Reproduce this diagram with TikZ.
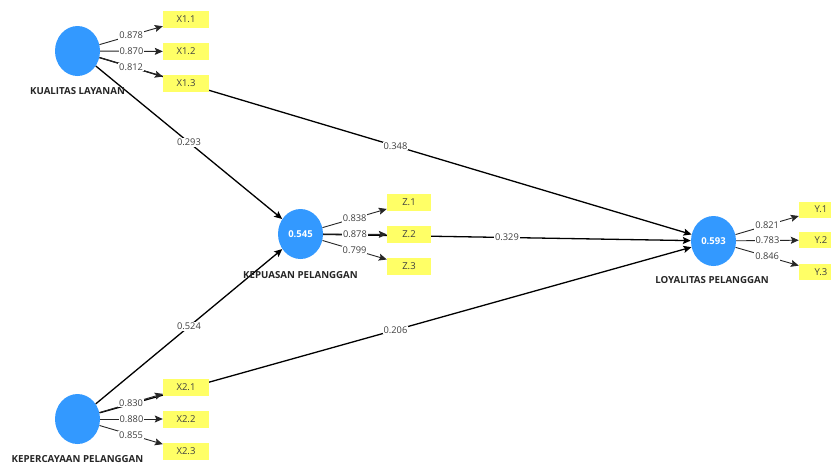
\documentclass[tikz,border=0pt]{standalone}
\usepackage{fontspec}
\setmainfont{Open Sans}
\usetikzlibrary{shapes.geometric,arrows.meta}
\definecolor{lvblue}{RGB}{51,153,255}
\definecolor{indyel}{RGB}{255,255,102}
\definecolor{numgray}{RGB}{64,64,64}
\pgfdeclarelayer{backdrop}
\pgfdeclarelayer{background}
\pgfsetlayers{backdrop,background,main}
\tikzset{
  latent/.style={ellipse, fill=lvblue, minimum width=45pt, minimum height=50pt, inner sep=0pt,
    text=white, font=\fontsize{9.5}{10}\selectfont\bfseries},
  indic/.style={rectangle, fill=indyel, minimum width=46pt, minimum height=17pt, inner sep=0pt,
    font=\fontsize{9.5}{10}\selectfont, text=numgray},
  lvname/.style={font=\fontsize{9.7}{10}\selectfont\bfseries, text=black!85, inner sep=0pt},
  inner/.style={line width=1.3pt, black, -{Stealth[length=8pt,width=7pt,inset=1.5pt]}},
  outer/.style={line width=0.9pt, black!85, -{Stealth[length=8pt,width=7pt,inset=1.5pt]}},
  coef/.style={fill=white, inner sep=0.8pt, font=\fontsize{9.3}{10}\selectfont, text=numgray},
}
\begin{document}
\begin{tikzpicture}[x=1pt,y=-1pt]
\useasboundingbox (0,0) rectangle (831,464);
\clip (0,0) rectangle (831,464);
\begin{pgfonlayer}{backdrop}
\fill[white] (0,0) rectangle (831,464);
\end{pgfonlayer}
% latent variables
\node[latent] (KL) at (77.5,51) {};
\node[latent] (KK) at (77.5,419) {};
\node[latent] (KP) at (300.5,234) {0.545};
\node[latent] (LP) at (713.5,241) {0.593};
\node[lvname] (KLn) at (77.5,91) {KUALITAS LAYANAN};
\node[lvname] (KKn) at (77.5,459) {KEPERCAYAAN PELANGGAN};
\node[lvname] (KPn) at (300.5,275) {KEPUASAN PELANGGAN};
\node[lvname] (LPn) at (712,280) {LOYALITAS PELANGGAN};
% indicators
\node[indic] (X11) at (186,19.5) {X1.1};
\node[indic] (X12) at (186,51.5) {X1.2};
\node[indic] (X13) at (186,83.5) {X1.3};
\node[indic] (X21) at (186,387) {X2.1};
\node[indic] (X22) at (186,419) {X2.2};
\node[indic] (X23) at (186,451) {X2.3};
\node[indic, minimum width=44pt] (Z1) at (409,202.5) {Z.1};
\node[indic, minimum width=44pt] (Z2) at (409,234.5) {Z.2};
\node[indic, minimum width=44pt] (Z3) at (409,266) {Z.3};
\node[indic, minimum width=44pt, minimum height=16pt] (Y1) at (821,209.5) {Y.1};
\node[indic, minimum width=44pt, minimum height=16pt] (Y2) at (821,240) {Y.2};
\node[indic, minimum width=44pt, minimum height=16pt] (Y3) at (821,272) {Y.3};
\begin{pgfonlayer}{background}
% structural paths
\draw[inner] (KL) -- node[coef]{0.293} (KP);
\draw[inner] (KL) -- node[coef]{0.348} (LP);
\draw[inner] (KP) -- node[coef]{0.329} (LP);
\draw[inner] (KK) -- node[coef]{0.524} (KP);
\draw[inner] (KK) -- node[coef]{0.206} (LP);
% loadings
\draw[outer] (KL) -- node[coef]{0.878} (X11);
\draw[outer] (KL) -- node[coef]{0.870} (X12);
\draw[outer] (KL) -- node[coef]{0.812} (X13);
\draw[outer] (KK) -- node[coef]{0.830} (X21);
\draw[outer] (KK) -- node[coef]{0.880} (X22);
\draw[outer] (KK) -- node[coef]{0.855} (X23);
\draw[outer] (KP) -- node[coef]{0.838} (Z1);
\draw[outer] (KP) -- node[coef]{0.878} (Z2);
\draw[outer] (KP) -- node[coef]{0.799} (Z3);
\draw[outer] (LP) -- node[coef]{0.821} (Y1);
\draw[outer] (LP) -- node[coef]{0.783} (Y2);
\draw[outer] (LP) -- node[coef]{0.846} (Y3);
\end{pgfonlayer}
\end{tikzpicture}
\end{document}
